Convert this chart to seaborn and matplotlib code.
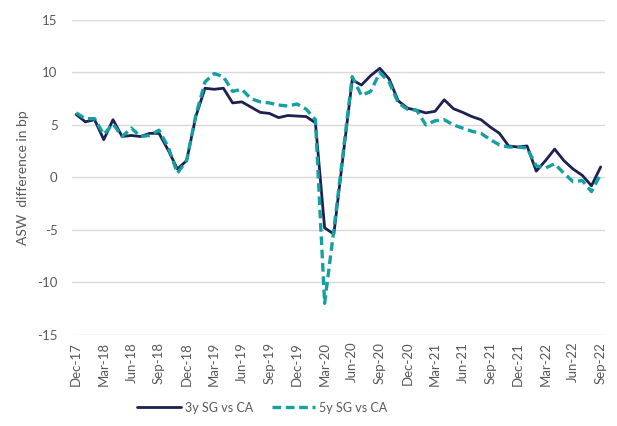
import numpy as np
import pandas as pd
import matplotlib
matplotlib.use("Agg")
import matplotlib.pyplot as plt
import seaborn as sns

# monthly dates, Dec-17 .. Sep-22
months = pd.date_range("2017-12-01", "2022-09-01", freq="MS")
month_labels = [d.strftime("%b-%y") for d in months]

# ASW difference, bp
sg_ca_3y = [6.0, 5.3, 5.5, 3.6, 5.5, 3.9, 4.0, 3.9, 4.2, 4.2,
            2.6, 0.8, 1.6, 5.8, 8.5, 8.4, 8.5, 7.1, 7.2, 6.7,
            6.2, 6.1, 5.7, 5.9, 5.85, 5.8, 5.2, -4.8, -5.4, 2.0,
            9.3, 8.8, 9.7, 10.4, 9.4, 7.3, 6.6, 6.4, 6.15, 6.3,
            7.4, 6.55, 6.2, 5.8, 5.5, 4.8, 4.2, 3.0, 2.9, 3.0,
            0.6, 1.6, 2.7, 1.6, 0.8, 0.2, -0.8, 1.0]
sg_ca_5y = [6.15, 5.6, 5.6, 4.1, 5.1, 3.9, 4.7, 3.9, 4.0, 4.5,
            2.9, 0.4, 1.6, 5.9, 9.1, 9.9, 9.6, 8.2, 8.4, 7.5,
            7.2, 7.1, 6.9, 6.8, 7.0, 6.5, 5.5, -12.0, -5.0, 2.3,
            9.6, 7.8, 8.2, 10.0, 9.1, 7.1, 6.5, 6.4, 5.0, 5.4,
            5.5, 5.0, 4.7, 4.4, 4.2, 3.6, 3.1, 2.9, 2.9, 2.8,
            1.1, 0.9, 1.3, 0.4, -0.4, -0.3, -1.35, 0.3]
y_ticks = [-15, -10, -5, 0, 5, 10, 15]

df = pd.DataFrame({"idx": np.arange(len(months)),
                   "3y SG vs CA": sg_ca_3y,
                   "5y SG vs CA": sg_ca_5y})

sns.set_style("white")
plt.rcParams["font.family"] = ["Lato", "DejaVu Sans"]

grey = "#595959"
navy = "#1d2152"
teal = "#14a0a2"

fig, ax = plt.subplots(figsize=(6.17, 4.26), dpi=100)
fig.subplots_adjust(left=0.116, right=0.981, top=0.953, bottom=0.214)

sns.lineplot(data=df, x="idx", y="3y SG vs CA", ax=ax, color=navy,
             linewidth=2.0, label="3y SG vs CA")
sns.lineplot(data=df, x="idx", y="5y SG vs CA", ax=ax, color=teal,
             linewidth=2.4, linestyle=(0, (2.6, 1.4)), label="5y SG vs CA")

ax.set_xlim(-0.5, len(months) - 0.5)
ax.set_ylim(-15, 15)
ax.set_yticks(y_ticks)
ax.set_yticklabels([str(v) for v in y_ticks])
ax.grid(axis="y", color="#d9d9d9", linewidth=1.0)
ax.set_axisbelow(True)

# labels every 3 months, tick marks on category boundaries
ax.set_xticks(df["idx"][::3])
ax.set_xticklabels(month_labels[::3], rotation=90)
ax.set_xticks(np.arange(-0.5, len(months), 3), minor=True)
ax.tick_params(axis="x", which="major", length=0, pad=5, labelsize=9.5, labelcolor=grey)
ax.tick_params(axis="x", which="minor", length=4, color="#d9d9d9", width=1)
ax.tick_params(axis="y", length=0, labelsize=9.5, labelcolor=grey, pad=10)

for side in ["top", "right", "left", "bottom"]:
    ax.spines[side].set_visible(False)

ax.set_xlabel("")
ax.set_ylabel("ASW  difference in bp", color=grey, fontsize=10, labelpad=6)

ax.get_legend().remove()
handles, labels = ax.get_legend_handles_labels()
fig.legend(handles, labels, loc="center", bbox_to_anchor=(0.425, 0.043), ncol=2,
           frameon=False, fontsize=9, labelcolor=grey, handlelength=3.5,
           columnspacing=1.5, handletextpad=0.3)

fig.savefig("out.png", dpi=100)
